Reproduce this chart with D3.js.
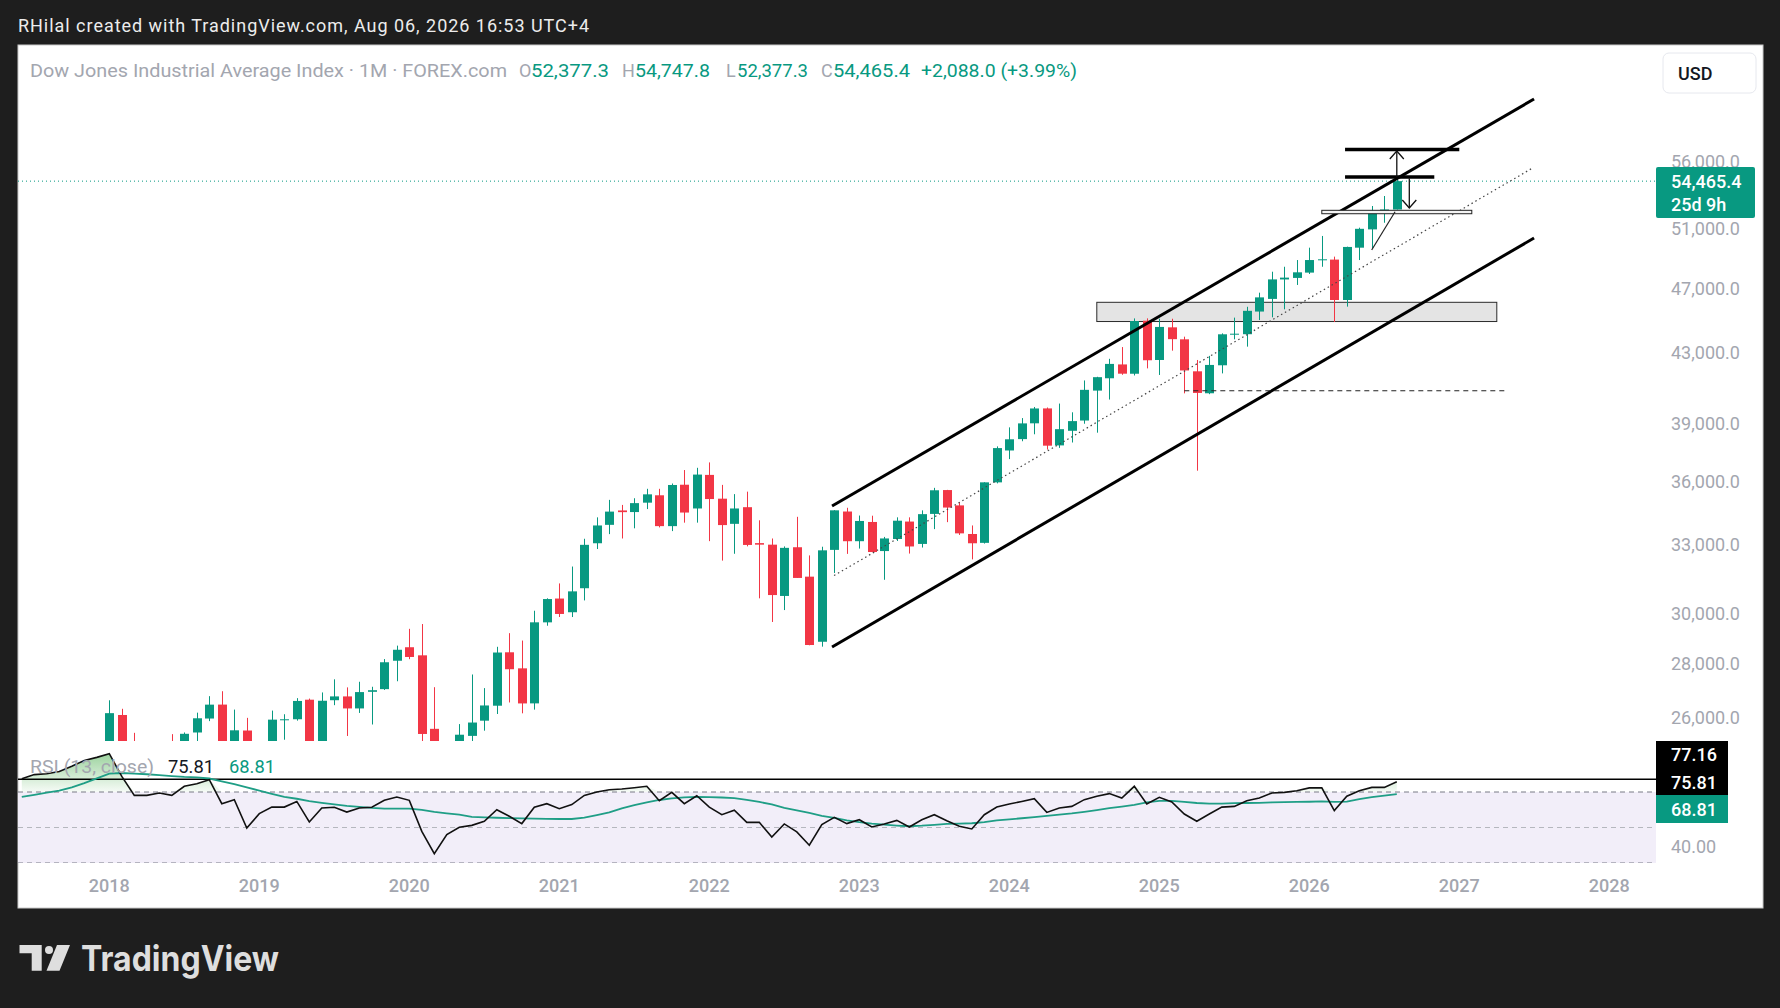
<!DOCTYPE html>
<html>
<head>
<meta charset="utf-8">
<script src="https://cdn.jsdelivr.net/npm/d3@7"></script>
<style>
  html, body { margin: 0; padding: 0; background: #1e1e1e; }
  svg { display: block; font-family: Roboto, "Noto Sans", sans-serif; }
</style>
</head>
<body>
<div id="chart"></div>
<script>
// Monthly candles, Jun 2017 (index -7) .. Aug 2026 (index 103); index 0 = Jan 2018
var firstIndex = -7;

var opens = [
  21030, 21392, 21961, 21982, 22423, 23442, 24305,
  24809, 26083, 25024, 24076, 24117, 24542, 24161, 25461, 25956, 26460, 25142, 25530,
  23058, 25025, 25916, 25930, 26639, 24798, 26620, 26760, 26320, 26930, 27030, 28109,
  28638, 28320, 25590, 21227, 24120, 25342, 25879, 26419, 28439, 27816, 26504, 29638,
  30627, 30054, 31066, 33054, 33904, 34584, 34507, 34957, 35315, 33844, 35833, 34678,
  36322, 35150, 33951, 34740, 33061, 32990, 30737, 32873, 31566, 28855, 32753, 34533,
  33148, 34039, 32700, 33248, 34058, 33023, 34419, 35570, 34826, 33479, 33072, 35950,
  37566, 38160, 39000, 39810, 37830, 38600, 39150, 40800, 41500, 42300, 41760, 44930,
  42560, 44520, 43790, 41900, 40650, 42250, 44080, 44100, 45500, 46300, 47560, 47660,
  48010, 48860, 48880, 46230, 49690, 50960, 52240, 52377.3
];
var highs = [
  21535, 21830, 22179, 22420, 23485, 24327, 24876,
  26617, 26307, 25449, 24858, 25086, 25403, 25462, 26167, 26769, 26952, 26278, 25980,
  25053, 26242, 26110, 26696, 26680, 26907, 27398, 27095, 27306, 27118, 28174, 28701,
  29374, 29569, 27102, 24765, 25758, 27581, 27068, 28655, 29199, 28903, 30116, 30637,
  31272, 32009, 33259, 34256, 35092, 34849, 35171, 35632, 35631, 35892, 36566, 36679,
  36953, 35825, 35372, 35492, 34117, 33272, 32910, 34281, 32504, 32896, 34595, 34712,
  34342, 34334, 33344, 34257, 34257, 34588, 35679, 35580, 34979, 33875, 35954, 37778,
  38783, 39282, 39889, 39860, 40077, 39597, 41376, 41585, 42628, 43325, 45071, 45074,
  45054, 45050, 43950, 42560, 42800, 44150, 45120, 45800, 46700, 48070, 48400, 48850,
  49690, 50500, 49080, 49760, 51080, 52630, 53360, 54747.8
];
var lows = [
  20995, 21280, 21600, 21709, 22416, 23242, 23921,
  24741, 23360, 23509, 23344, 23908, 23997, 24077, 24965, 25863, 24123, 24268, 21713,
  22638, 24883, 25208, 25880, 24680, 24680, 26438, 25339, 26157, 25743, 27000, 27325,
  28170, 24681, 18214, 20735, 23361, 24843, 25524, 26119, 26537, 26143, 26277, 29500,
  29857, 29856, 30548, 32792, 33473, 33272, 33742, 34650, 33785, 33613, 34006, 34007,
  33150, 32272, 32578, 32913, 30636, 29653, 30144, 31507, 28715, 28661, 31727, 32573,
  32812, 32650, 31430, 33157, 32587, 32859, 33705, 34030, 33436, 32327, 33040, 35900,
  37122, 38048, 38415, 37612, 37700, 37981, 38977, 38500, 40300, 41700, 41660, 42070,
  41690, 43110, 40646, 36533, 40600, 41780, 43790, 43350, 44970, 45140, 45640, 47200,
  47920, 48400, 44850, 45810, 48850, 49650, 51430, 52377.3
];
var closes = [
  21350, 21891, 21948, 22405, 23377, 24272, 24719,
  26149, 25029, 24103, 24163, 24416, 24271, 25415, 25965, 26458, 25116, 25538, 23327,
  24999, 25916, 25929, 26593, 24815, 26600, 26760, 26320, 26920, 26990, 28051, 28538,
  28256, 25409, 21917, 24346, 25383, 25813, 26428, 28430, 27782, 26502, 29639, 30606,
  29983, 30932, 32982, 33875, 34529, 34503, 34935, 35361, 33844, 35820, 34484, 36338,
  35132, 33893, 34678, 32977, 32990, 30775, 32845, 31510, 28726, 32733, 34590, 33147,
  34086, 32657, 33274, 34098, 32908, 34408, 35560, 34722, 33508, 33053, 35951, 37690,
  38150, 38996, 39807, 37816, 38686, 39119, 40843, 41563, 42330, 41763, 44910, 42544,
  44545, 43800, 41950, 40669, 42270, 44095, 44131, 45545, 46398, 47563, 47680, 48030,
  48850, 48900, 46230, 49740, 51000, 52220, 52377.3, 54465.4
];

// RSI (13, close) and its moving average, same months as the candles
var rsiValues = [
  77.5, 79.8, 80.3, 81.5, 84.5, 87.8, 89.5,
  91.6, 78.8, 68.1, 68.1, 69.4, 68.1, 73.2, 74.7, 76.9, 63.4, 65.7, 49.7,
  57.8, 61.5, 61.5, 64.7, 53.1, 61.0, 61.4, 58.7, 61.0, 61.4, 65.3, 67.2,
  65.3, 47.8, 35.3, 46.0, 50.1, 51.2, 53.5, 60.0, 56.3, 52.2, 61.4, 63.4,
  60.6, 62.9, 68.1, 70.0, 71.3, 71.7, 72.4, 73.2, 65.1, 69.8, 63.4, 67.9,
  61.5, 57.2, 59.7, 52.9, 52.9, 44.6, 52.0, 47.5, 40.0, 51.6, 55.7, 52.2,
  54.4, 50.3, 52.0, 54.0, 50.3, 54.4, 57.2, 53.8, 50.7, 49.2, 57.2, 61.5,
  63.2, 64.7, 66.2, 58.5, 61.0, 61.9, 65.7, 67.6, 69.1, 66.6, 73.2, 63.2,
  67.0, 64.4, 57.6, 53.5, 57.6, 61.5, 61.9, 65.1, 66.6, 69.4, 69.8, 70.7,
  72.3, 72.3, 59.5, 67.6, 70.7, 72.6, 72.6, 75.81
];
var rsiAverage = [
  67.2, 68.4, 69.6, 70.8, 72.6, 75.0, 77.7,
  80.3, 80.7, 80.4, 80.0, 79.5, 79.0, 78.5, 78.2, 77.6, 76.0, 74.5, 72.6,
  70.8, 69.0, 67.3, 66.2, 64.9, 63.9, 63.0, 62.2, 61.6, 61.0, 60.6, 60.6,
  60.6, 59.9, 58.8, 58.0, 57.2, 56.0, 55.7, 55.5, 55.3, 55.1, 55.0, 54.9,
  54.8, 54.8, 55.6, 57.0, 58.5, 60.8, 62.6, 64.2, 65.5, 66.4, 67.0, 67.2,
  67.1, 66.9, 66.6, 65.6, 64.4, 63.0, 61.0, 59.6, 58.2, 56.6, 55.4, 54.0,
  53.0, 52.2, 51.6, 51.1, 50.7, 51.0, 51.5, 52.0, 52.2, 52.4, 53.0, 54.0,
  54.6, 55.2, 55.9, 56.6, 57.2, 57.9, 58.8, 59.8, 60.9, 61.8, 62.8, 64.2,
  65.0, 65.0, 64.4, 63.8, 63.4, 63.5, 63.7, 63.8, 63.9, 64.1, 64.3, 64.4,
  64.5, 64.7, 64.4, 64.6, 66.0, 67.1, 67.9, 68.81
];

var yearLabels = ["2018", "2019", "2020", "2021", "2022", "2023", "2024", "2025", "2026", "2027", "2028"];
var priceTicks = [56000, 51000, 47000, 43000, 39000, 36000, 33000, 30000, 28000, 26000];
var rsiTicks = [40];
var rsiLevels = [70, 50, 30];
var rsiDrawnLevel = 77.16;

// drawings: [month index, price]
var upperChannel = [[57.82, 34796], [113.98, 61000]];
var lowerChannel = [[57.82, 28646], [113.98, 50357]];
var midChannel = [[57.98, 31614], [113.86, 55462]];
var supportZone = [[79.0, 46084], [111.0, 44878]];
var breakoutBox = [[97.0, 52318], [109.0, 52072]];
var targetLine = [[98.86, 56895], [108.0, 56895]];
var highLine = [[98.86, 54778], [106.0, 54778]];
var arrowUp = [[103.0, 54778], [103.0, 56778]];
var arrowDown = [[104.0, 54680], [104.0, 52484]];
var wedgeLine = [[100.99, 49532], [102.86, 52218]];
var dashedLevel = [[86.0, 40793], [111.9, 40793]];

var lastClose = 54465.4;

// ---------------------------------------------------------------
var W = 1780, H = 1008;
var plotL = 18, plotR = 1656, frameR = 1763;
var priceTop = 45, priceBottom = 741, rsiBottom = 863;
var up = "#089981", down = "#F23645";

var svg = d3.select("#chart").append("svg")
    .attr("width", W)
    .attr("height", H);

svg.append("rect").attr("width", W).attr("height", H).attr("fill", "#1e1e1e");

// header
svg.append("text")
    .attr("x", 18).attr("y", 25)
    .attr("dominant-baseline", "central")
    .attr("fill", "#ececec")
    .attr("font-size", 18)
    .attr("textLength", 571)
    .text("RHilal created with TradingView.com, Aug 06, 2026 16:53 UTC+4");

// white chart frame
svg.append("rect")
    .attr("x", plotL).attr("y", priceTop)
    .attr("width", frameR - plotL).attr("height", 908 - priceTop)
    .attr("fill", "#ffffff")
    .attr("stroke", "#c9c9c9").attr("stroke-width", 1);

var x = d3.scaleLinear().domain([0, 120]).range([109.3, 1609.3]);
var y = d3.scaleLog().domain([26000, 56000]).range([717.3, 161]);
var yr = d3.scaleLinear().domain([30, 70]).range([rsiBottom, 792]);

var defs = svg.append("defs");
defs.append("clipPath").attr("id", "pricePane").append("rect")
    .attr("x", plotL).attr("y", priceTop).attr("width", plotR - plotL).attr("height", priceBottom - priceTop);
defs.append("clipPath").attr("id", "rsiPane").append("rect")
    .attr("x", plotL).attr("y", priceBottom).attr("width", plotR - plotL).attr("height", rsiBottom - priceBottom);

var grad = defs.append("linearGradient").attr("id", "obFill")
    .attr("gradientUnits", "userSpaceOnUse")
    .attr("x1", 0).attr("x2", 0).attr("y1", yr(100)).attr("y2", yr(70));
grad.append("stop").attr("offset", 0).attr("stop-color", "#4caf50").attr("stop-opacity", 0.75);
grad.append("stop").attr("offset", 1).attr("stop-color", "#4caf50").attr("stop-opacity", 0.05);

var candles = closes.map(function (c, i) {
    return { k: i + firstIndex, o: opens[i], h: highs[i], l: lows[i], c: c };
});

function px(p) { return x(p[0]); }
function py(p) { return y(p[1]); }

// ---- price pane
var pane = svg.append("g").attr("clip-path", "url(#pricePane)");

// support zone
pane.append("rect")
    .attr("x", x(supportZone[0][0])).attr("y", y(supportZone[0][1]))
    .attr("width", x(supportZone[1][0]) - x(supportZone[0][0]))
    .attr("height", y(supportZone[1][1]) - y(supportZone[0][1]))
    .attr("fill", "#e4e4e4").attr("stroke", "#2a2a2a").attr("stroke-width", 1);

// last price line
pane.append("line")
    .attr("x1", plotL).attr("x2", plotR)
    .attr("y1", y(lastClose)).attr("y2", y(lastClose))
    .attr("stroke", up).attr("stroke-width", 1).attr("stroke-dasharray", "1,3");

// candles
pane.selectAll("line.wick").data(candles).join("line")
    .attr("class", "wick")
    .attr("x1", function (d) { return Math.round(x(d.k)) + 0.5; })
    .attr("x2", function (d) { return Math.round(x(d.k)) + 0.5; })
    .attr("y1", function (d) { return y(d.h); })
    .attr("y2", function (d) { return y(d.l); })
    .attr("stroke", function (d) { return d.c >= d.o ? up : down; })
    .attr("stroke-width", 1);

pane.selectAll("rect.body").data(candles).join("rect")
    .attr("class", "body")
    .attr("x", function (d) { return Math.round(x(d.k)) - 4; })
    .attr("width", 9)
    .attr("y", function (d) { return y(Math.max(d.o, d.c)); })
    .attr("height", function (d) { return Math.max(1, Math.abs(y(d.o) - y(d.c))); })
    .attr("fill", function (d) { return d.c >= d.o ? up : down; });

// drawings
var seg = d3.line().x(px).y(py);

pane.append("path").attr("d", seg(midChannel))
    .attr("fill", "none").attr("stroke", "#444").attr("stroke-width", 1.2).attr("stroke-dasharray", "1.5,3");
pane.append("path").attr("d", seg(upperChannel))
    .attr("fill", "none").attr("stroke", "#000").attr("stroke-width", 3);
pane.append("path").attr("d", seg(lowerChannel))
    .attr("fill", "none").attr("stroke", "#000").attr("stroke-width", 3);

pane.append("path").attr("d", seg(dashedLevel))
    .attr("fill", "none").attr("stroke", "#222").attr("stroke-width", 1.2).attr("stroke-dasharray", "5,4");

pane.append("rect")
    .attr("x", x(breakoutBox[0][0])).attr("y", y(breakoutBox[0][1]))
    .attr("width", x(breakoutBox[1][0]) - x(breakoutBox[0][0]))
    .attr("height", y(breakoutBox[1][1]) - y(breakoutBox[0][1]))
    .attr("fill", "#f4f4f4").attr("stroke", "#222").attr("stroke-width", 1);

pane.append("path").attr("d", seg(wedgeLine))
    .attr("fill", "none").attr("stroke", "#222").attr("stroke-width", 1.2);

[targetLine, highLine].forEach(function (l) {
    pane.append("path").attr("d", seg(l))
        .attr("fill", "none").attr("stroke", "#000").attr("stroke-width", 3.5);
});

function arrow(a) {
    var x0 = px(a[0]), y0 = py(a[0]), y1 = py(a[1]);
    var dir = y1 < y0 ? 1 : -1;
    pane.append("path").attr("d", seg(a))
        .attr("fill", "none").attr("stroke", "#111").attr("stroke-width", 1.3);
    pane.append("path")
        .attr("d", "M" + (x0 - 7) + "," + (y1 + dir * 8) + "L" + x0 + "," + y1 + "L" + (x0 + 7) + "," + (y1 + dir * 8))
        .attr("fill", "none").attr("stroke", "#111").attr("stroke-width", 1.3);
}
arrow(arrowUp);
arrow(arrowDown);

// ---- RSI pane
var rsiPts = rsiValues.map(function (v, i) { return { k: i + firstIndex, v: v, m: rsiAverage[i] }; });
var rp = svg.append("g").attr("clip-path", "url(#rsiPane)");

rp.append("rect")
    .attr("x", plotL).attr("width", plotR - plotL)
    .attr("y", yr(70)).attr("height", yr(30) - yr(70))
    .attr("fill", "#f2eef9");

rp.append("path")
    .datum(rsiPts)
    .attr("d", d3.area()
        .x(function (d) { return x(d.k); })
        .y0(yr(70))
        .y1(function (d) { return yr(Math.max(70, d.v)); }))
    .attr("fill", "url(#obFill)");

rsiLevels.forEach(function (lv) {
    rp.append("line")
        .attr("x1", plotL).attr("x2", plotR)
        .attr("y1", yr(lv)).attr("y2", yr(lv))
        .attr("stroke", lv === 50 ? "#b5b7be" : "#787b86")
        .attr("stroke-width", 1).attr("stroke-dasharray", "5,4");
});

rp.append("line")
    .attr("x1", plotL).attr("x2", plotR)
    .attr("y1", yr(rsiDrawnLevel)).attr("y2", yr(rsiDrawnLevel))
    .attr("stroke", "#000").attr("stroke-width", 1.5);

rp.append("path").datum(rsiPts)
    .attr("d", d3.line().x(function (d) { return x(d.k); }).y(function (d) { return yr(d.m); }))
    .attr("fill", "none").attr("stroke", "#1f9e86").attr("stroke-width", 1.8);

rp.append("path").datum(rsiPts)
    .attr("d", d3.line().x(function (d) { return x(d.k); }).y(function (d) { return yr(d.v); }))
    .attr("fill", "none").attr("stroke", "#111").attr("stroke-width", 1.6);

// ---- legends
var grey = "#a3a6af";
var legend = svg.append("g").attr("font-size", 18).attr("dominant-baseline", "central");
function lt(xp, yp, txt, col, len) {
    var t = legend.append("text").attr("x", xp).attr("y", yp).attr("fill", col).text(txt);
    if (len) t.attr("textLength", len).attr("lengthAdjust", "spacingAndGlyphs");
    return t;
}
lt(30, 70, "Dow Jones Industrial Average Index · 1M · FOREX.com", grey, 477);
lt(519, 70, "O", grey);
lt(531, 70, "52,377.3", up, 78);
lt(622, 70, "H", grey);
lt(635, 70, "54,747.8", up, 75);
lt(726, 70, "L", grey);
lt(737, 70, "52,377.3", up, 71);
lt(821, 70, "C", grey);
lt(833, 70, "54,465.4", up, 77);
lt(921, 70, "+2,088.0 (+3.99%)", up, 156);

lt(30, 766, "RSI (13, close)", grey, 124);
lt(168, 766, "75.81", "#131722", 46);
lt(229, 766, "68.81", up, 46);

// ---- price axis
var axisG = svg.append("g").attr("font-size", 18).attr("fill", grey).attr("dominant-baseline", "central");
axisG.selectAll("text.p").data(priceTicks).join("text")
    .attr("class", "p")
    .attr("x", 1671).attr("y", function (d) { return y(d); })
    .text(function (d) { return d3.format(",.1f")(d); });
axisG.selectAll("text.r").data(rsiTicks).join("text")
    .attr("class", "r")
    .attr("x", 1671).attr("y", function (d) { return yr(d) + 1; })
    .text(function (d) { return d3.format(".2f")(d); });

// x axis
axisG.selectAll("text.yr").data(yearLabels).join("text")
    .attr("class", "yr")
    .attr("x", function (d, i) { return x(i * 12); })
    .attr("y", 885)
    .attr("text-anchor", "middle")
    .attr("font-weight", 500)
    .text(function (d) { return d; });

// last price label
svg.append("rect").attr("x", 1656).attr("y", 167).attr("width", 99).attr("height", 51).attr("rx", 2).attr("fill", up);
svg.append("text").attr("x", 1671).attr("y", 181).attr("dominant-baseline", "central")
    .attr("fill", "#fff").attr("font-size", 18).attr("font-weight", 500).text(d3.format(",.1f")(lastClose));
svg.append("text").attr("x", 1671).attr("y", 204).attr("dominant-baseline", "central")
    .attr("fill", "#fff").attr("font-size", 18).attr("font-weight", 500).text("25d 9h");

// RSI labels
svg.append("rect").attr("x", 1656).attr("y", 741).attr("width", 72).attr("height", 54).attr("fill", "#000");
svg.append("rect").attr("x", 1656).attr("y", 795).attr("width", 72).attr("height", 28).attr("fill", up);
[[754, "77.16"], [782, "75.81"], [809, "68.81"]].forEach(function (l) {
    svg.append("text").attr("x", 1671).attr("y", l[0]).attr("dominant-baseline", "central")
        .attr("fill", "#fff").attr("font-size", 18).attr("font-weight", 500).text(l[1]);
});

// USD button
svg.append("rect").attr("x", 1663).attr("y", 53).attr("width", 93).attr("height", 40).attr("rx", 6)
    .attr("fill", "#fff").attr("stroke", "#e6e8ee");
svg.append("text").attr("x", 1678).attr("y", 73).attr("dominant-baseline", "central")
    .attr("fill", "#131722").attr("font-size", 18).attr("font-weight", 500).text("USD");

// TradingView logo
var logo = svg.append("g").attr("fill", "#dedede");
logo.append("path").attr("d", "M19.5,945 H41.7 V970.7 H31.7 V953.3 H19.5 Z");
logo.append("circle").attr("cx", 49).attr("cy", 950).attr("r", 4);
logo.append("path").attr("d", "M57,945 H70 L59.5,970.7 H46.5 Z");
logo.append("text").attr("x", 81).attr("y", 971)
    .attr("font-family", "Inter, Lato, sans-serif").attr("font-weight", 700).attr("font-size", 35)
    .attr("textLength", 198).attr("lengthAdjust", "spacingAndGlyphs")
    .text("TradingView");
</script>
</body>
</html>
